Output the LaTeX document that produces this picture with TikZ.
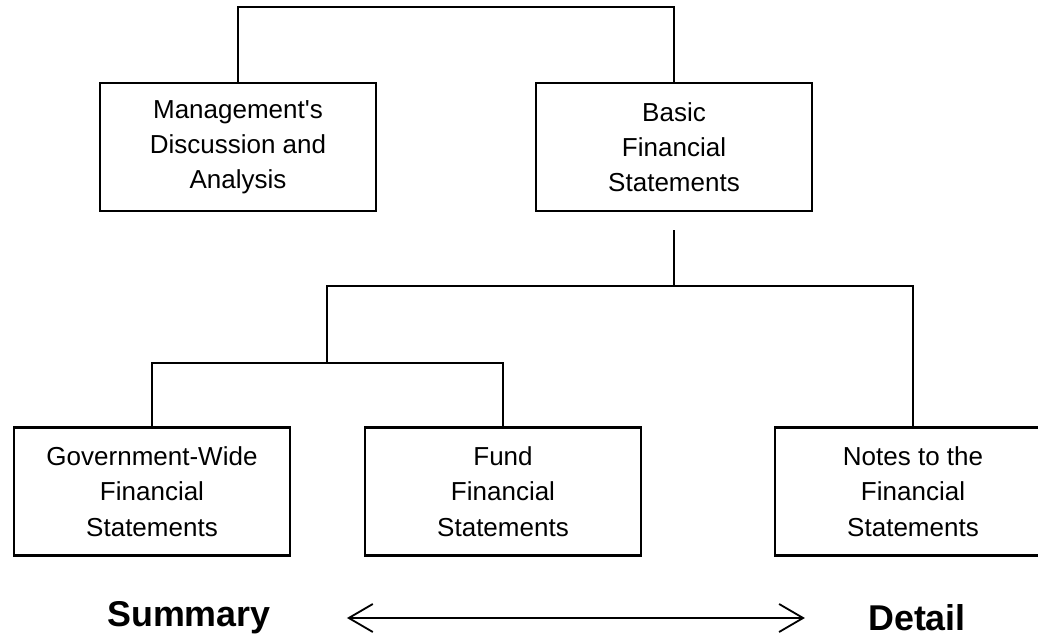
\documentclass[tikz,border=0pt]{standalone}
\usepackage{fontspec}
\setmainfont{Liberation Sans}
\usetikzlibrary{arrows.meta}

\tikzset{
  box/.style={draw, line width=1.6pt, minimum width=6.9cm, minimum height=3.2cm,
    align=center, font=\fontsize{18.5}{25}\selectfont},
  link/.style={line width=1.3pt},
  tag/.style={inner sep=0pt, font=\fontsize{25.5}{30}\selectfont\bfseries}
}

\begin{document}
\begin{tikzpicture}
  \useasboundingbox (0,0) rectangle (25.95,-15.975);
  \clip (0,0) rectangle (25.95,-15.975);

  % upper row
  \node[box] (mda) at (5.95,-3.675) {Management\textquotesingle s\\Discussion and\\Analysis};
  \node[box] (basic) at (16.85,-3.675) {Basic\\Financial\\Statements};

  % lower row
  \node[box] (gw) at (3.8,-12.29) {Government-Wide\\Financial\\Statements};
  \node[box] (fund) at (12.575,-12.29) {Fund\\Financial\\Statements};
  \node[box] (notes) at (22.825,-12.29) {Notes to the\\Financial\\Statements};

  % branch points
  \coordinate (split) at (16.85,-7.15);
  \coordinate (mid) at (8.175,-9.075);

  \draw[link] (mda.north) -- ++(0,1.875) -| (basic.north);
  \draw[link] ([yshift=-0.45cm]basic.south) -- (split);
  \draw[link] (mid) |- (split) -| (notes.north);
  \draw[link] (gw.north) |- (mid) -| (fund.north);

  % scale along the bottom
  \node[tag] (summary) at (4.725,-15.45) {Summary};
  \node[tag] (detail) at (22.925,-15.45) {Detail};
  \draw[link, {Straight Barb[length=0.6cm,width=0.7cm]}-{Straight Barb[length=0.6cm,width=0.7cm]},
    shorten <=1.9cm, shorten >=1.575cm] (summary) -- (detail);
\end{tikzpicture}
\end{document}
